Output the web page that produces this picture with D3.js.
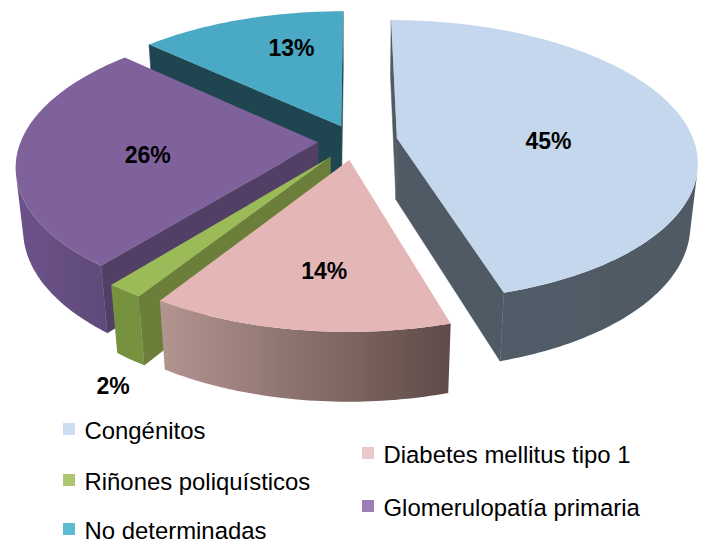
<!DOCTYPE html>
<html><head><meta charset="utf-8">
<style>html,body{margin:0;padding:0;background:#fff}svg{display:block}</style>
<script src="https://cdn.jsdelivr.net/npm/d3@7"></script></head>
<body><svg id="c" width="705" height="555"></svg>
<script>
// DATA
const categories = ["Congénitos","Diabetes mellitus tipo 1","Riñones poliquísticos","Glomerulopatía primaria","No determinadas"];
const values = [45.4, 13.6, 1.7, 26.2, 13.1];
const shown = [45, 14, 2, 26, 13];
// STYLE
const topColors  = ["#C4D7ED","#E4B6B5","#9BBB59","#7F619C","#4AA9C4"];
const cutColors  = ["#505A64","#6B4F4D","#6B7F3A","#523F65","#1E4550"];
const wallFrom   = ["#505C68","#B39590","#76923F","#6C528A","#1E4550"];
const wallTo     = ["#505A64","#5F4A47","#76923F","#5F4A7A","#1E4550"];
const legendColors = ["#CCDDF1","#EBC7C6","#ADC770","#9A7FB8","#5FBBD2"];
const legendColumn = [0,1,0,1,0];
const legendBase = [439,463,490,516,539];
const explode = [0.143,0.137,0.14,0.125,0.118];
const labelRadius = [0.51,0.69,1.39,0.57,0.673];
const labelTurn = [11,-2,-12,-5.5,7];
// PROJECTION
const X0=355,Y0=141,A=297,B=137.7,C=63,K=0.159,M=0.022,DEG=Math.PI/180;
const sx=d3.scaleLinear().domain([0,1]).range([0,A]);
const sy=d3.scaleLinear().domain([0,1]).range([0,B]);
function proj(vx,vy,z){const w=1-K*vy+M*z;return [X0+sx(vx)/w,Y0+(sy(vy)+C*z)/w];}
const unit=t=>[Math.sin(t),-Math.cos(t)];
const svg=d3.select("#c");
const defs=svg.append("defs");
const line=d3.line();
const shoelace=p=>d3.sum(p,(a,i)=>{const b=p[(i+1)%p.length];return a[0]*b[1]-b[0]*a[1];});
const arcs=d3.pie().sort(null).value(d=>d).startAngle(0).endAngle(2*Math.PI)(values);
const order=[4,0,3,2,1];
order.forEach(i=>{
  const a=arcs[i],mid=(a.startAngle+a.endAngle)/2,[ox,oy]=unit(mid).map(v=>v*explode[i]);
  const pt=(t,r,z)=>{const [u,v]=unit(t);return proj(ox+u*r,oy+v*r,z);};
  const steps=d3.range(0,Math.ceil((a.endAngle-a.startAngle)/DEG)+1).map(k=>Math.min(a.endAngle,a.startAngle+k*DEG));
  const g=svg.append("g");
  // cut faces
  [[pt(a.startAngle,0,0),pt(a.startAngle,1,0),pt(a.startAngle,1,1),pt(a.startAngle,0,1)],
   [pt(a.endAngle,1,0),pt(a.endAngle,0,0),pt(a.endAngle,0,1),pt(a.endAngle,1,1)]].forEach(q=>{
    if(shoelace(q)<0) g.append("path").attr("d",line(q)+"Z").attr("fill",cutColors[i]).attr("stroke",cutColors[i]).attr("stroke-width",.5);
  });
  // outer wall
  const vis=[];
  for(let k=0;k<steps.length-1;k++){
    const q=[pt(steps[k],1,0),pt(steps[k+1],1,0),pt(steps[k+1],1,1),pt(steps[k],1,1)];
    if(shoelace(q)<0) vis.push(steps[k],steps[k+1]);
  }
  if(vis.length){
    const gid="w"+i,gr=defs.append("linearGradient").attr("id",gid);
    gr.append("stop").attr("offset",0).attr("stop-color",wallFrom[i]);
    gr.append("stop").attr("offset",1).attr("stop-color",wallTo[i]);
    const ts=Array.from(new Set(vis));
    const poly=ts.map(t=>pt(t,1,0)).concat(ts.slice().reverse().map(t=>pt(t,1,1)));
    g.append("path").attr("d",line(poly)+"Z").attr("fill",`url(#${gid})`);
  }
  // top
  const top=[pt(0,0,0)].concat(steps.map(t=>pt(t,1,0)));
  g.append("path").attr("d",line(top)+"Z").attr("fill",topColors[i]);
});
// labels
arcs.forEach((a,i)=>{
  const mid=(a.startAngle+a.endAngle)/2,[ox,oy]=unit(mid).map(v=>v*explode[i]);
  const [u,v]=unit(mid+labelTurn[i]*DEG),p=proj(ox+u*labelRadius[i],oy+v*labelRadius[i],0);
  svg.append("text").attr("x",p[0]).attr("y",p[1]+7.5).attr("text-anchor","middle")
    .attr("font-family","'Liberation Sans',Arial,sans-serif").attr("font-weight","bold").attr("font-size",23)
    .attr("fill","#000").text(shown[i]+"%");
});
// legend
const legendX=d3.scaleOrdinal().domain([0,1]).range([63,362]);
categories.forEach((c,i)=>{
  const x=legendX(legendColumn[i]),b=legendBase[i];
  svg.append("rect").attr("x",x).attr("y",b-16).attr("width",12).attr("height",12).attr("fill",legendColors[i]);
  svg.append("text").attr("x",x+21.5).attr("y",b)
    .attr("font-family","'Liberation Sans',Arial,sans-serif").attr("font-size",23.9).attr("fill","#000").text(c);
});
</script></body></html>
